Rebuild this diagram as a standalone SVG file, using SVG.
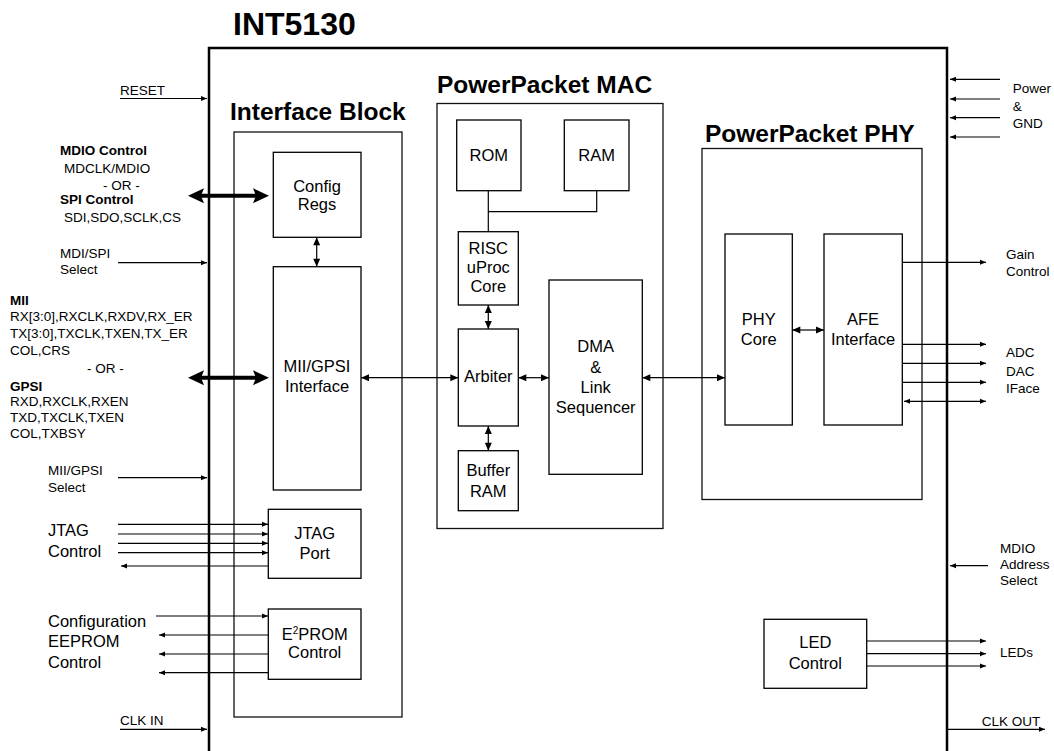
<svg xmlns="http://www.w3.org/2000/svg" width="1054" height="751" viewBox="0 0 1054 751">
<style>
text{font-family:"Liberation Sans",Arial,sans-serif;fill:#000}
.lbl{font-size:13.5px}
.blk{font-size:16.5px;text-anchor:middle}
.big{font-size:16.5px}
.ttl{font-size:24.5px;font-weight:bold}
.b{font-weight:bold}
.box{fill:#fff;stroke:#000;stroke-width:1.3}
.grp{fill:none;stroke:#111;stroke-width:1.3}
.ln{stroke:#000;stroke-width:1.2;fill:none}
.s1{marker-end:url(#sa)}
.s2{marker-start:url(#sa);marker-end:url(#sa)}
.m2{marker-start:url(#ma);marker-end:url(#ma)}
.thick{stroke:#000;stroke-width:4;fill:none;marker-start:url(#ta);marker-end:url(#ta)}
</style>
<defs>
<marker id="sa" markerUnits="userSpaceOnUse" markerWidth="6" markerHeight="5" refX="6" refY="2.5" orient="auto-start-reverse" overflow="visible"><path d="M0,0L6,2.5L0,5z" fill="#000"/></marker>
<marker id="ma" markerUnits="userSpaceOnUse" markerWidth="8" markerHeight="8" refX="8" refY="4" orient="auto-start-reverse" overflow="visible"><path d="M0,0.5L8,4L0,7.5z" fill="#000"/></marker>
<marker id="ta" markerUnits="userSpaceOnUse" markerWidth="16" markerHeight="15" refX="5" refY="7.5" orient="auto-start-reverse" overflow="visible"><path d="M0,0L16,7.5L0,15L3,7.5z" fill="#000"/></marker>
</defs>
<rect width="1054" height="751" fill="#fff"/>

<g id="chip">
<path d="M209,760V48H947V760" fill="none" stroke="#000" stroke-width="2.5"/>
<text x="233" y="35" font-size="32" font-weight="bold">INT5130</text>
</g>

<g id="interface-block">
<rect class="grp" x="234" y="132" width="168" height="585"/>
<text class="ttl" x="230" y="120">Interface Block</text>
</g>
<g id="mac-block">
<rect class="grp" x="437" y="103.5" width="226" height="425"/>
<text class="ttl" x="437" y="93">PowerPacket MAC</text>
</g>
<g id="phy-block">
<rect class="grp" x="702" y="148.5" width="220" height="351"/>
<text class="ttl" x="705" y="141.5">PowerPacket PHY</text>
</g>

<g id="connectors">
<path class="ln s1" d="M120,98.5H207"/>
<path class="thick" d="M199,195.7H258"/>
<path class="ln s1" d="M118,262.7H207"/>
<path class="thick" d="M199,377.7H258"/>
<path class="ln s1" d="M118,477.7H207"/>
<path class="ln s1" d="M118,524.3H268"/>
<path class="ln s1" d="M118,534H268"/>
<path class="ln s1" d="M118,543.3H268"/>
<path class="ln s1" d="M118,552.7H268"/>
<path class="ln s1" d="M268,566H121"/>
<path class="ln s1" d="M156,616H268"/>
<path class="ln s1" d="M268,635H159"/>
<path class="ln s1" d="M268,654H159"/>
<path class="ln s1" d="M268,672.7H159"/>
<path class="ln s1" d="M120,729.3H207"/>
<path class="ln m2" d="M316.7,237.3V266.7"/>
<path class="ln m2" d="M361,377.7H458.3"/>
<path class="ln" d="M488.3,190.7V231.7M488.3,211.7H596.7V190.7"/>
<path class="ln m2" d="M488.3,305V329"/>
<path class="ln m2" d="M488.3,426V450.7"/>
<path class="ln m2" d="M518.3,377.7H549"/>
<path class="ln m2" d="M642.3,377.7H725"/>
<path class="ln m2" d="M792.3,330H824"/>
<path class="ln s1" d="M902.3,262.3H986"/>
<path class="ln s1" d="M902.3,344.3H986"/>
<path class="ln s1" d="M902.3,363.3H986"/>
<path class="ln s1" d="M902.3,382.3H986"/>
<path class="ln s2" d="M904,401.3H986"/>
<path class="ln s1" d="M1000,79.3H950"/>
<path class="ln s1" d="M1000,99H950"/>
<path class="ln s1" d="M1000,117.7H950"/>
<path class="ln s1" d="M1000,137H950"/>
<path class="ln s1" d="M988,565.7H950"/>
<path class="ln s1" d="M866.7,641H986"/>
<path class="ln s1" d="M866.7,653.7H986"/>
<path class="ln s1" d="M866.7,666H986"/>
<path class="ln s1" d="M946.7,729.3H1045"/>
</g>

<g id="config-regs">
<rect class="box" x="273.3" y="152.3" width="87.7" height="85"/>
<text class="blk" x="317" y="192">Config</text>
<text class="blk" x="317" y="210">Regs</text>
</g>
<g id="mii-gpsi">
<rect class="box" x="273.3" y="266.7" width="87.7" height="223.3"/>
<text class="blk" x="317" y="372.3">MII/GPSI</text>
<text class="blk" x="317" y="391.7">Interface</text>
</g>
<g id="jtag-port">
<rect class="box" x="268.3" y="509.3" width="92.7" height="69"/>
<text class="blk" x="314.7" y="539">JTAG</text>
<text class="blk" x="314.7" y="559">Port</text>
</g>
<g id="e2prom">
<rect class="box" x="268.3" y="609" width="92.7" height="70.3"/>
<text class="blk" x="314.7" y="640">E<tspan font-size="10" dy="-6">2</tspan><tspan dy="6">PROM</tspan></text>
<text class="blk" x="314.7" y="658.3">Control</text>
</g>
<g id="rom">
<rect class="box" x="456.7" y="120" width="64.3" height="70.7"/>
<text class="blk" x="488.8" y="161">ROM</text>
</g>
<g id="ram">
<rect class="box" x="564.3" y="120" width="64.7" height="70.7"/>
<text class="blk" x="596.7" y="161">RAM</text>
</g>
<g id="risc">
<rect class="box" x="458.3" y="231.7" width="60" height="73.3"/>
<text class="blk" x="488.3" y="254.3">RISC</text>
<text class="blk" x="488.3" y="273.3">uProc</text>
<text class="blk" x="488.3" y="292.3">Core</text>
</g>
<g id="arbiter">
<rect class="box" x="458.3" y="329" width="60" height="97"/>
<text class="blk" x="488.3" y="382.3">Arbiter</text>
</g>
<g id="buffer-ram">
<rect class="box" x="458.3" y="450.7" width="60" height="60"/>
<text class="blk" x="488.3" y="475.7">Buffer</text>
<text class="blk" x="488.3" y="496.7">RAM</text>
</g>
<g id="dma">
<rect class="box" x="549" y="280" width="93.3" height="194.3"/>
<text class="blk" x="595.7" y="351.7">DMA</text>
<text class="blk" x="595.7" y="372.7">&amp;</text>
<text class="blk" x="595.7" y="392.7">Link</text>
<text class="blk" x="595.7" y="413.3">Sequencer</text>
</g>
<g id="phy-core">
<rect class="box" x="725" y="234" width="67.3" height="191"/>
<text class="blk" x="758.7" y="325">PHY</text>
<text class="blk" x="758.7" y="345">Core</text>
</g>
<g id="afe">
<rect class="box" x="824" y="234" width="78.3" height="191"/>
<text class="blk" x="863" y="325">AFE</text>
<text class="blk" x="863" y="345">Interface</text>
</g>
<g id="led-control">
<rect class="box" x="764" y="619.3" width="102.7" height="69"/>
<text class="blk" x="815.3" y="648.3">LED</text>
<text class="blk" x="815.3" y="669.3">Control</text>
</g>

<g id="labels">
<text class="lbl" x="120" y="95">RESET</text>
<text class="lbl b" x="60" y="155">MDIO Control</text>
<text class="lbl" x="64" y="172.7">MDCLK/MDIO</text>
<text class="lbl" x="103" y="190">- OR -</text>
<text class="lbl b" x="60" y="204">SPI Control</text>
<text class="lbl" x="64" y="221.7">SDI,SDO,SCLK,CS</text>
<text class="lbl" x="60" y="258.3">MDI/SPI</text>
<text class="lbl" x="60" y="274">Select</text>
<text class="lbl b" x="10" y="305">MII</text>
<text class="lbl" x="10" y="320.7">RX[3:0],RXCLK,RXDV,RX_ER</text>
<text class="lbl" x="10" y="338.3">TX[3:0],TXCLK,TXEN,TX_ER</text>
<text class="lbl" x="10" y="355">COL,CRS</text>
<text class="lbl" x="87" y="373.3">- OR -</text>
<text class="lbl b" x="10" y="390.7">GPSI</text>
<text class="lbl" x="10" y="406">RXD,RXCLK,RXEN</text>
<text class="lbl" x="10" y="421.7">TXD,TXCLK,TXEN</text>
<text class="lbl" x="10" y="438.3">COL,TXBSY</text>
<text class="lbl" x="48" y="475">MII/GPSI</text>
<text class="lbl" x="48" y="491.7">Select</text>
<text class="big" x="48" y="535.7">JTAG</text>
<text class="big" x="48" y="556.7">Control</text>
<text class="big" x="48" y="626.7">Configuration</text>
<text class="big" x="48" y="647.3">EEPROM</text>
<text class="big" x="48" y="667.7">Control</text>
<text class="lbl" x="120" y="725">CLK IN</text>
<text class="lbl" x="1012.7" y="93.3">Power</text>
<text class="lbl" x="1012.7" y="110.7">&amp;</text>
<text class="lbl" x="1012.7" y="127.7">GND</text>
<text class="lbl" x="1006" y="259">Gain</text>
<text class="lbl" x="1006" y="275.7">Control</text>
<text class="lbl" x="1006" y="357.3">ADC</text>
<text class="lbl" x="1006" y="375.7">DAC</text>
<text class="lbl" x="1006" y="392.7">IFace</text>
<text class="lbl" x="1000" y="552.7">MDIO</text>
<text class="lbl" x="1000" y="569.3">Address</text>
<text class="lbl" x="1000" y="585">Select</text>
<text class="lbl" x="1000" y="656.7">LEDs</text>
<text class="lbl" x="981.7" y="726">CLK OUT</text>
</g>
</svg>
